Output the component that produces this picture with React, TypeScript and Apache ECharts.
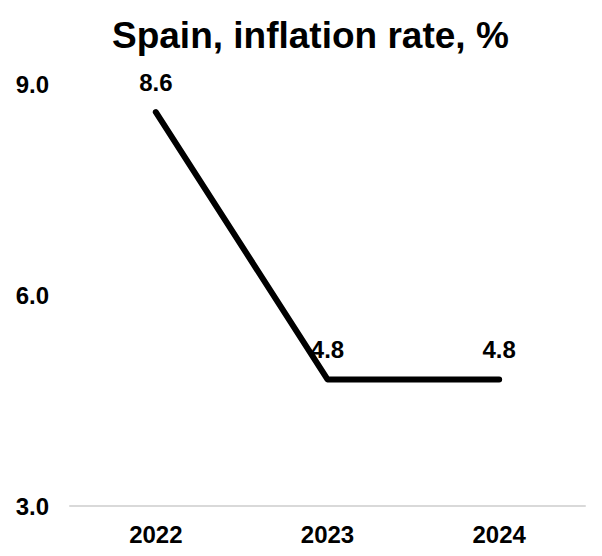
import React, { useEffect, useRef } from "react";
import * as echarts from "echarts";

// Annual inflation, Spain
const years = ["2022", "2023", "2024"];
const inflation = [8.6, 4.8, 4.8];
const yTicks = { min: 3, max: 9, interval: 3 };

const FONT = "'Liberation Sans', Arial, sans-serif";

export default function App() {
  const ref = useRef<HTMLDivElement>(null);

  useEffect(() => {
    if (!ref.current) return;
    const chart = echarts.init(ref.current, null, { renderer: "svg" });
    chart.setOption({
      animation: false,
      backgroundColor: "#ffffff",
      title: {
        text: "Spain, inflation rate, %",
        left: 107,
        top: 12,
        textStyle: {
          fontFamily: FONT,
          fontSize: 37,
          fontWeight: "bold",
          color: "#000000",
        },
      },
      grid: { left: 70, right: 17, top: 84, bottom: 50, containLabel: false },
      xAxis: {
        type: "category",
        data: years,
        boundaryGap: true,
        axisLine: { show: true, lineStyle: { color: "#d9d9d9", width: 2 } },
        axisTick: { show: false },
        axisLabel: {
          margin: 16,
          fontFamily: FONT,
          fontSize: 24,
          fontWeight: "bold",
          color: "#000000",
        },
      },
      yAxis: {
        type: "value",
        min: yTicks.min,
        max: yTicks.max,
        interval: yTicks.interval,
        splitLine: { show: false },
        axisLine: { show: false },
        axisTick: { show: false },
        axisLabel: {
          margin: 21,
          fontFamily: FONT,
          fontSize: 24,
          fontWeight: "bold",
          color: "#000000",
          formatter: (v: number) => v.toFixed(1),
        },
      },
      series: [
        {
          type: "line",
          data: inflation,
          showSymbol: true,
          symbol: "circle",
          symbolSize: 0,
          lineStyle: { color: "#000000", width: 6, cap: "round", join: "round" },
          itemStyle: { color: "#000000" },
          label: {
            show: true,
            position: "top",
            distance: 18,
            fontFamily: FONT,
            fontSize: 24,
            fontWeight: "bold",
            color: "#000000",
            formatter: (p: any) => Number(p.value).toFixed(1),
          },
        },
      ],
    });
    return () => chart.dispose();
  }, []);

  return (
    <div
      ref={ref}
      style={{ position: "absolute", left: 0, top: 0, width: 602, height: 556 }}
    />
  );
}
